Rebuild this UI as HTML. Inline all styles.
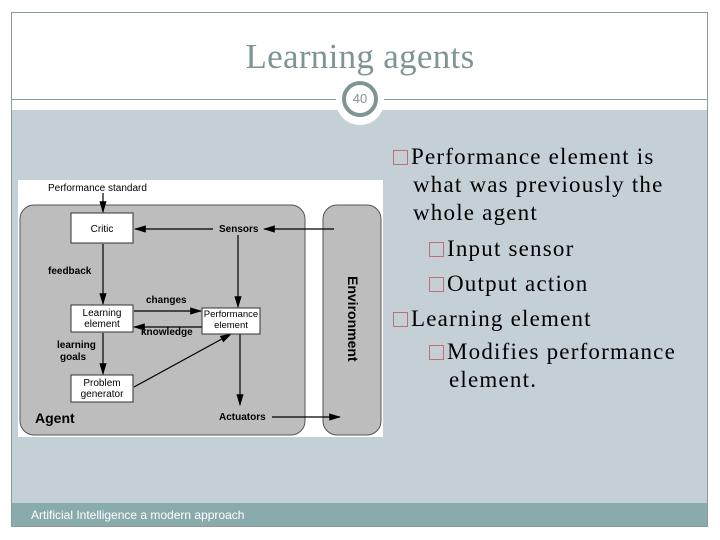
<!DOCTYPE html>
<html><head><meta charset="utf-8"><style>
body{margin:0;width:720px;height:540px;background:#fff;position:relative;overflow:hidden;font-family:"Liberation Serif",serif}
.frame{position:absolute;left:11px;top:12px;width:697px;height:515px;border:1px solid #8a9a9a;box-sizing:border-box}
.title{position:absolute;left:0;width:720px;top:37px;text-align:center;font-size:35px;color:#7f9494;letter-spacing:0.3px}
.body{position:absolute;left:12px;top:110px;width:695px;height:393px;background:#c5d0d6}
.foot{position:absolute;left:12px;top:503px;width:695px;height:23px;background:#8aabab;font-family:"Liberation Sans",sans-serif;font-size:12px;color:#fff}
.txt{position:absolute;font-size:23px;color:#000;line-height:28px;letter-spacing:1.2px;white-space:nowrap}
.b{display:inline-block;width:15px;height:15px;border:1.5px solid #c07070;box-sizing:border-box;margin-right:3px;vertical-align:-1px}
</style></head><body>
<div class="body"></div>
<div class="foot"><span style="position:absolute;left:19px;top:5px">Artificial Intelligence a modern approach</span></div>
<div class="frame"></div>
<div style="position:absolute;left:12px;top:99px;width:695px;height:1px;background:#8a9a9a"></div>
<div class="title">Learning agents</div>
<div style="position:absolute;left:336px;top:77px;width:48px;height:48px;border-radius:50%;background:#fff"></div>
<div style="position:absolute;left:342px;top:81px;width:36px;height:36px;border-radius:50%;border:4px solid #7f9494;box-sizing:border-box;background:#fff;text-align:center;line-height:28px;font-family:'Liberation Sans',sans-serif;font-size:13px;color:#7f9494">40</div>
<div class="txt" style="left:393px;top:143px"><span class="b"></span>Performance element is</div>
<div class="txt" style="left:413px;top:171px">what was previously the</div>
<div class="txt" style="left:413px;top:199px">whole agent</div>
<div class="txt" style="left:429px;top:235px"><span class="b"></span>Input sensor</div>
<div class="txt" style="left:429px;top:270px"><span class="b"></span>Output action</div>
<div class="txt" style="left:393px;top:305px"><span class="b"></span>Learning element</div>
<div class="txt" style="left:429px;top:338px"><span class="b"></span>Modifies performance</div>
<div class="txt" style="left:449px;top:366px">element.</div>
<svg style="position:absolute;left:0;top:0" width="720" height="540" font-family="Liberation Sans,sans-serif">
<defs><marker id="a" markerWidth="10" markerHeight="8" refX="9" refY="4" orient="auto"><path d="M0,1 L10,4 L0,7z" fill="#000"/></marker></defs>
<rect x="18" y="180" width="365" height="257" fill="#fff"/>
<rect x="20" y="205" width="285" height="230" rx="14" fill="#bdbdbd" stroke="#555"/>
<rect x="323" y="205" width="58" height="230" rx="14" fill="#bdbdbd" stroke="#555"/>
<text x="48" y="191" font-size="10">Performance standard</text>
<g stroke="#000" stroke-width="1.2" fill="none" marker-end="url(#a)">
<line x1="103" y1="193" x2="103" y2="212"/>
<line x1="213" y1="229" x2="135" y2="229"/>
<line x1="334" y1="229" x2="264" y2="229"/>
<line x1="238" y1="235" x2="238" y2="307"/>
<line x1="103" y1="244" x2="103" y2="304"/>
<line x1="134" y1="311" x2="201" y2="311"/>
<line x1="202" y1="327" x2="134" y2="327"/>
<line x1="103" y1="333" x2="103" y2="374"/>
<line x1="134" y1="387" x2="231" y2="334"/>
<line x1="240" y1="334" x2="240" y2="405"/>
<line x1="272" y1="417" x2="340" y2="417"/>
</g>
<g fill="#fff" stroke="#333"><rect x="71" y="213" width="62" height="30"/><rect x="71" y="305" width="62" height="27"/><rect x="202" y="308" width="58" height="26"/><rect x="71" y="375" width="62" height="27"/></g>
<g font-size="10" text-anchor="middle">
<text x="102" y="232">Critic</text>
<text x="102" y="316">Learning</text><text x="102" y="327">element</text>
<text x="231" y="317" font-size="9.5">Performance</text><text x="231" y="328" font-size="9.5">element</text>
<text x="102" y="386">Problem</text><text x="102" y="397">generator</text>
</g>
<g font-size="10" font-weight="bold">
<text x="219" y="232">Sensors</text>
<text x="48" y="274">feedback</text>
<text x="146" y="303">changes</text>
<text x="141" y="335">knowledge</text>
<text x="57" y="348">learning</text><text x="60" y="360">goals</text>
<text x="219" y="420">Actuators</text>
<text x="35" y="423" font-size="14">Agent</text>
<text x="0" y="0" font-size="14" transform="translate(348,276) rotate(90)">Environment</text>
</g>
</svg>
</body></html>
